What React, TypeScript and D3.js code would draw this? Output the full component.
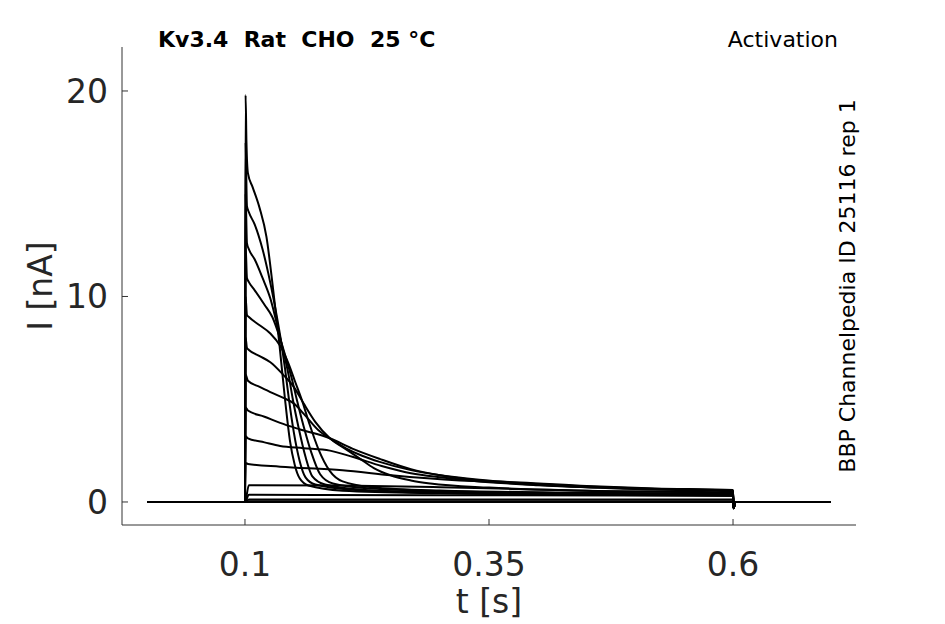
import React from "react";
import * as d3 from "d3";

type Pt = [number, number];

const W = 945;
const H = 624;

// samples: [time s, current nA], one array per voltage step
const step15: Pt[] = [[0.1, 0], [0.1006, 19.8], [0.1015, 17.5], [0.103, 16.0], [0.108, 15.3], [0.115, 14.3], [0.122, 12.9], [0.1287, 10.4], [0.135, 7.8], [0.141, 5.0], [0.146, 3.0], [0.151, 1.8], [0.156, 1.15], [0.165, 0.8], [0.2, 0.55], [0.3, 0.42], [0.45, 0.35], [0.6, 0.3]];
const step14: Pt[] = [[0.1, 0], [0.1006, 17.5], [0.102, 14.4], [0.104, 14.1], [0.11, 13.5], [0.118, 12.3], [0.124, 11.1], [0.13, 9.7], [0.136, 8.1], [0.141, 6.5], [0.145, 5.0], [0.15, 3.4], [0.156, 2.0], [0.162, 1.2], [0.172, 0.85], [0.21, 0.6], [0.3, 0.45], [0.45, 0.38], [0.6, 0.32]];
const step13: Pt[] = [[0.1, 0], [0.1006, 15.0], [0.102, 12.6], [0.104, 12.3], [0.11, 11.8], [0.118, 10.9], [0.126, 9.9], [0.133, 8.6], [0.14, 7.2], [0.145, 6.1], [0.149, 5.0], [0.155, 3.6], [0.162, 2.2], [0.169, 1.25], [0.182, 0.85], [0.22, 0.6], [0.3, 0.47], [0.45, 0.4], [0.6, 0.35]];
const step12: Pt[] = [[0.1, 0], [0.1006, 12.5], [0.102, 10.9], [0.104, 10.7], [0.11, 10.3], [0.12, 9.6], [0.128, 9.0], [0.135, 8.1], [0.142, 7.0], [0.148, 6.0], [0.153, 5.0], [0.16, 3.7], [0.168, 2.4], [0.177, 1.35], [0.19, 0.9], [0.23, 0.65], [0.3, 0.52], [0.45, 0.42], [0.6, 0.37]];
const step11: Pt[] = [[0.1, 0], [0.1006, 10.0], [0.102, 9.1], [0.104, 9.0], [0.115, 8.6], [0.126, 8.2], [0.136, 7.6], [0.144, 6.8], [0.151, 5.9], [0.158, 5.0], [0.166, 3.8], [0.175, 2.6], [0.187, 1.5], [0.2, 1.0], [0.23, 0.72], [0.3, 0.56], [0.45, 0.45], [0.6, 0.4]];
const step10: Pt[] = [[0.1, 0], [0.1006, 8.0], [0.102, 7.5], [0.104, 7.4], [0.115, 7.1], [0.126, 6.8], [0.139, 6.2], [0.15, 5.6], [0.16, 4.8], [0.172, 3.9], [0.187, 3.1], [0.204, 2.55], [0.218, 2.1], [0.232, 1.65], [0.249, 1.3], [0.27, 1.05], [0.29, 0.9], [0.35, 0.7], [0.45, 0.55], [0.6, 0.45]];
const step09: Pt[] = [[0.1, 0], [0.1006, 6.2], [0.103, 5.9], [0.115, 5.6], [0.126, 5.35], [0.14, 5.05], [0.15, 4.8], [0.16, 4.3], [0.175, 3.5], [0.19, 3.0], [0.204, 2.6], [0.22, 2.25], [0.238, 1.95], [0.27, 1.55], [0.3, 1.3], [0.34, 1.08], [0.382, 0.92], [0.45, 0.75], [0.52, 0.63], [0.6, 0.55]];
const step08: Pt[] = [[0.1, 0], [0.1006, 4.6], [0.103, 4.45], [0.12, 4.15], [0.136, 3.85], [0.155, 3.55], [0.187, 3.1], [0.21, 2.6], [0.238, 2.1], [0.27, 1.6], [0.3, 1.3], [0.35, 1.0], [0.42, 0.78], [0.5, 0.63], [0.6, 0.52]];
const step07: Pt[] = [[0.1, 0], [0.1006, 3.2], [0.103, 3.1], [0.12, 2.9], [0.136, 2.72], [0.16, 2.62], [0.187, 2.5], [0.21, 2.2], [0.24, 1.75], [0.27, 1.4], [0.3, 1.2], [0.34, 1.0], [0.4, 0.82], [0.5, 0.66], [0.6, 0.56]];
const step06: Pt[] = [[0.1, 0], [0.1006, 1.9], [0.103, 1.85], [0.136, 1.72], [0.2, 1.55], [0.25, 1.3], [0.32, 1.05], [0.382, 0.95], [0.45, 0.78], [0.52, 0.66], [0.6, 0.58]];
const step05: Pt[] = [[0.1, 0], [0.104, 0.82], [0.2, 0.8], [0.3, 0.72], [0.45, 0.55], [0.6, 0.45]];
const step04: Pt[] = [[0.1, 0], [0.104, 0.35], [0.3, 0.33], [0.6, 0.3]];
const step03: Pt[] = [[0.1, 0], [0.104, 0.12], [0.6, 0.12]];
const step02: Pt[] = [[0.1, 0], [0.104, 0.03], [0.6, 0.03]];
const step01: Pt[] = [[0.1, 0], [0.6, 0]];

const traces = [step01, step02, step03, step04, step05, step06, step07, step08, step09, step10, step11, step12, step13, step14, step15];

// holding before the step, and the small tail after it
const preHold: Pt[] = [[0, 0], [0.0998, 0]];
const offTimes = [0.6005, 0.6025, 0.7];
const offCurrent = [-0.3, 0, 0];

const xTicks = [0.1, 0.35, 0.6];
const xTickLabels = ["0.1", "0.35", "0.6"];
const yTicks = [0, 10, 20];
const yTickLabels = ["0", "10", "20"];

const axisColor = "#333";
const labelColor = "#262626";

export default function App() {
  const x = d3.scaleLinear().domain([-0.026, 0.726]).range([122, 856]);
  const y = d3.scaleLinear().domain([-1.12, 22.14]).range([525, 47]);

  const line = d3
    .line<Pt>()
    .x(d => x(d[0]))
    .y(d => y(d[1]))
    .curve(d3.curveMonotoneX);

  const fullTrace = (tr: Pt[]): Pt[] => [
    ...preHold,
    ...tr,
    ...offTimes.map((t, i) => [t, offCurrent[i]] as Pt),
  ];

  const [x0, x1] = x.range();
  const [yb, yt] = y.range();

  return (
    <svg
      width={W}
      height={H}
      style={{ position: "absolute", left: 0, top: 0 }}
      fontFamily="DejaVu Sans, sans-serif"
    >
      <rect width={W} height={H} fill="white" />

      {traces.map((tr, i) => (
        <path
          key={i}
          d={line(fullTrace(tr)) || ""}
          fill="none"
          stroke="#000"
          strokeWidth={2}
          strokeLinejoin="round"
        />
      ))}

      {/* spines */}
      <line x1={x0} x2={x0} y1={yb} y2={yt} stroke={axisColor} strokeWidth={1} />
      <line x1={x0} x2={x1} y1={yb} y2={yb} stroke={axisColor} strokeWidth={1} />

      {/* ticks point inward */}
      {yTicks.map((v, i) => (
        <g key={"y" + i}>
          <line x1={x0} x2={x0 + 6} y1={y(v)} y2={y(v)} stroke={axisColor} strokeWidth={1} />
          <text x={x0 - 14} y={y(v) + 12} textAnchor="end" fontSize={33} fill={labelColor}>
            {yTickLabels[i]}
          </text>
        </g>
      ))}
      {xTicks.map((v, i) => (
        <g key={"x" + i}>
          <line x1={x(v)} x2={x(v)} y1={yb} y2={yb - 6} stroke={axisColor} strokeWidth={1} />
          <text x={x(v)} y={576} textAnchor="middle" fontSize={33} fill={labelColor}>
            {xTickLabels[i]}
          </text>
        </g>
      ))}

      <text x={(x0 + x1) / 2} y={613} textAnchor="middle" fontSize={33} fill={labelColor}>
        t [s]
      </text>
      <text
        transform={`translate(52, ${(yb + yt) / 2}) rotate(-90)`}
        textAnchor="middle"
        fontSize={33}
        fill={labelColor}
      >
        I [nA]
      </text>

      <text x={158} y={47} fontSize={22} fontWeight="bold" fill="#000" xmlSpace="preserve">
        {"Kv3.4  Rat  CHO  25 °C"}
      </text>
      <text x={838} y={47} textAnchor="end" fontSize={22} fill="#000">
        Activation
      </text>
      <text
        transform="translate(855, 286) rotate(-90)"
        textAnchor="middle"
        fontSize={22}
        fill="#000"
      >
        BBP Channelpedia ID 25116 rep 1
      </text>
    </svg>
  );
}
